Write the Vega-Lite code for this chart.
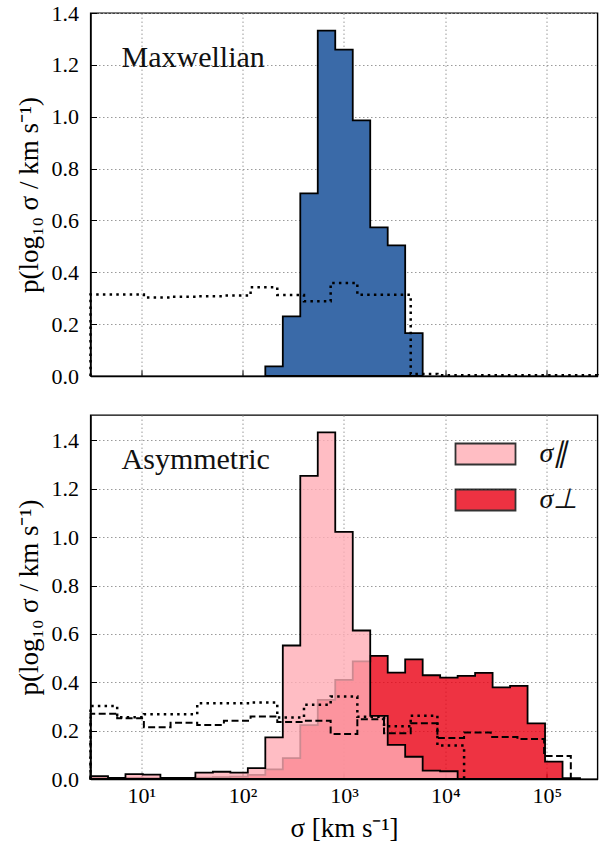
{
  "$schema": "https://vega.github.io/schema/vega-lite/v6.json",
  "padding": {"left": 13.5, "top": 1, "right": 0, "bottom": 0},
  "spacing": 26,
  "resolve": {"scale": {"fill": "independent"}, "legend": {"fill": "independent"}},
  "config": {
    "font": "Liberation Serif",
    "view": {"stroke": "#000", "strokeWidth": 1.4},
    "axis": {
      "zindex": 1,
      "domainColor": "#000",
      "domainWidth": 1.4,
      "tickColor": "#000",
      "tickWidth": 1,
      "tickSize": -6,
      "grid": true,
      "gridColor": "#9a9a9a",
      "gridDash": [1.5, 2.5],
      "gridWidth": 1,
      "labelColor": "#000",
      "labelFont": "Liberation Serif",
      "labelFontSize": 22,
      "titleColor": "#000",
      "titleFont": "Liberation Serif",
      "titleFontSize": 27,
      "titleFontWeight": "normal"
    }
  },
  "datasets": {
    "maxwellian": [
      {"sigma": 167.5, "p": 0},
      {"sigma": 167.5, "p": 0.037},
      {"sigma": 249.2, "p": 0.23},
      {"sigma": 370.6, "p": 0.704},
      {"sigma": 551.1, "p": 1.332},
      {"sigma": 819.8, "p": 1.259},
      {"sigma": 1219.9, "p": 0.986},
      {"sigma": 1814, "p": 0.573},
      {"sigma": 2698, "p": 0.504},
      {"sigma": 4012, "p": 0.165},
      {"sigma": 5968, "p": 0}
    ],
    "maxwellian_ref": [
      {"sigma": 3.1623, "p": 0},
      {"sigma": 3.1623, "p": 0.314},
      {"sigma": 5.796, "p": 0.314},
      {"sigma": 10.625, "p": 0.303},
      {"sigma": 19.48, "p": 0.306},
      {"sigma": 35.69, "p": 0.308},
      {"sigma": 65.42, "p": 0.31},
      {"sigma": 119.9, "p": 0.342},
      {"sigma": 219.8, "p": 0.312},
      {"sigma": 403.0, "p": 0.288},
      {"sigma": 738.6, "p": 0.359},
      {"sigma": 1353.9, "p": 0.313},
      {"sigma": 2481.7, "p": 0.313},
      {"sigma": 4548.7, "p": 0.008},
      {"sigma": 8338, "p": 0.003},
      {"sigma": 15286, "p": 0.003},
      {"sigma": 28022, "p": 0.003},
      {"sigma": 51343, "p": 0.003},
      {"sigma": 94120, "p": 0.003},
      {"sigma": 172510, "p": 0.003},
      {"sigma": 316228, "p": 0}
    ],
    "parallel": [
      {"component": "σ∥", "sigma": 3.1623, "p": 0},
      {"component": "σ∥", "sigma": 3.1623, "p": 0.012},
      {"component": "σ∥", "sigma": 4.703, "p": 0.005},
      {"component": "σ∥", "sigma": 6.997, "p": 0.02},
      {"component": "σ∥", "sigma": 10.405, "p": 0.018},
      {"component": "σ∥", "sigma": 15.47, "p": 0.005},
      {"component": "σ∥", "sigma": 23.02, "p": 0.005},
      {"component": "σ∥", "sigma": 34.23, "p": 0.026},
      {"component": "σ∥", "sigma": 50.92, "p": 0.03},
      {"component": "σ∥", "sigma": 75.73, "p": 0.026},
      {"component": "σ∥", "sigma": 112.6, "p": 0.045},
      {"component": "σ∥", "sigma": 167.5, "p": 0.172},
      {"component": "σ∥", "sigma": 249.2, "p": 0.552},
      {"component": "σ∥", "sigma": 370.6, "p": 1.253},
      {"component": "σ∥", "sigma": 551.1, "p": 1.433},
      {"component": "σ∥", "sigma": 819.8, "p": 1.022},
      {"component": "σ∥", "sigma": 1219.9, "p": 0.614},
      {"component": "σ∥", "sigma": 1814, "p": 0.261},
      {"component": "σ∥", "sigma": 2698, "p": 0.141},
      {"component": "σ∥", "sigma": 4012, "p": 0.092},
      {"component": "σ∥", "sigma": 5968, "p": 0.035},
      {"component": "σ∥", "sigma": 8877, "p": 0.032},
      {"component": "σ∥", "sigma": 13202, "p": 0}
    ],
    "perpendicular": [
      {"component": "σ⊥", "sigma": 3.1623, "p": 0},
      {"component": "σ⊥", "sigma": 3.1623, "p": 0.008},
      {"component": "σ⊥", "sigma": 4.703, "p": 0.003},
      {"component": "σ⊥", "sigma": 6.997, "p": 0.005},
      {"component": "σ⊥", "sigma": 10.405, "p": 0.004},
      {"component": "σ⊥", "sigma": 15.47, "p": 0.002},
      {"component": "σ⊥", "sigma": 23.02, "p": 0.003},
      {"component": "σ⊥", "sigma": 34.23, "p": 0.006},
      {"component": "σ⊥", "sigma": 50.92, "p": 0.008},
      {"component": "σ⊥", "sigma": 75.73, "p": 0.01},
      {"component": "σ⊥", "sigma": 112.6, "p": 0.017},
      {"component": "σ⊥", "sigma": 167.5, "p": 0.04},
      {"component": "σ⊥", "sigma": 249.2, "p": 0.086},
      {"component": "σ⊥", "sigma": 370.6, "p": 0.223},
      {"component": "σ⊥", "sigma": 551.1, "p": 0.327},
      {"component": "σ⊥", "sigma": 819.8, "p": 0.41},
      {"component": "σ⊥", "sigma": 1219.9, "p": 0.486},
      {"component": "σ⊥", "sigma": 1814, "p": 0.509},
      {"component": "σ⊥", "sigma": 2698, "p": 0.44},
      {"component": "σ⊥", "sigma": 4012, "p": 0.495},
      {"component": "σ⊥", "sigma": 5968, "p": 0.429},
      {"component": "σ⊥", "sigma": 8877, "p": 0.419},
      {"component": "σ⊥", "sigma": 13202, "p": 0.426},
      {"component": "σ⊥", "sigma": 19635, "p": 0.439},
      {"component": "σ⊥", "sigma": 29204, "p": 0.379},
      {"component": "σ⊥", "sigma": 43435, "p": 0.385},
      {"component": "σ⊥", "sigma": 64600, "p": 0.23},
      {"component": "σ⊥", "sigma": 96108, "p": 0.072},
      {"component": "σ⊥", "sigma": 142944, "p": 0.003},
      {"component": "σ⊥", "sigma": 212605, "p": 0}
    ],
    "asym_dotted": [
      {"sigma": 3.1623, "p": 0},
      {"sigma": 3.1623, "p": 0.302},
      {"sigma": 5.796, "p": 0.255},
      {"sigma": 10.625, "p": 0.268},
      {"sigma": 19.48, "p": 0.268},
      {"sigma": 35.69, "p": 0.313},
      {"sigma": 65.42, "p": 0.313},
      {"sigma": 119.9, "p": 0.316},
      {"sigma": 219.8, "p": 0.254},
      {"sigma": 403.0, "p": 0.307},
      {"sigma": 738.6, "p": 0.341},
      {"sigma": 1353.9, "p": 0.257},
      {"sigma": 2481.7, "p": 0.218},
      {"sigma": 4548.7, "p": 0.262},
      {"sigma": 8338, "p": 0.138},
      {"sigma": 15286, "p": 0}
    ],
    "asym_dashed": [
      {"sigma": 3.1623, "p": 0},
      {"sigma": 3.1623, "p": 0.27},
      {"sigma": 5.796, "p": 0.251},
      {"sigma": 10.625, "p": 0.214},
      {"sigma": 19.48, "p": 0.233},
      {"sigma": 35.69, "p": 0.2235},
      {"sigma": 65.42, "p": 0.241},
      {"sigma": 119.9, "p": 0.258},
      {"sigma": 219.8, "p": 0.236},
      {"sigma": 403.0, "p": 0.241},
      {"sigma": 738.6, "p": 0.186},
      {"sigma": 1353.9, "p": 0.247},
      {"sigma": 2481.7, "p": 0.189},
      {"sigma": 4548.7, "p": 0.23},
      {"sigma": 8338, "p": 0.17},
      {"sigma": 15286, "p": 0.192},
      {"sigma": 28022, "p": 0.174},
      {"sigma": 51343, "p": 0.165},
      {"sigma": 94120, "p": 0.095},
      {"sigma": 172510, "p": 0}
    ],
    "panel_labels": [
      {"panel": "top", "label": "Maxwellian"},
      {"panel": "bottom", "label": "Asymmetric"}
    ]
  },
  "vconcat": [
    {
      "width": 507,
      "height": 363,
      "layer": [
        {
          "data": {"name": "maxwellian"},
          "mark": {"type": "area", "interpolate": "step-after", "fill": "#3a6aa8", "stroke": "#000", "strokeWidth": 1.8},
          "encoding": {
            "x": {
              "field": "sigma",
              "type": "quantitative",
              "scale": {"type": "log", "domain": [3.1623, 316228], "nice": false},
              "axis": {"title": null, "labels": false, "values": [10, 100, 1000, 10000, 100000]}
            },
            "y": {
              "field": "p",
              "type": "quantitative",
              "scale": {"domain": [0, 1.4], "nice": false, "zero": true},
              "axis": {
                "title": "p(log₁₀ σ / km s⁻¹)",
                "values": [0, 0.2, 0.4, 0.6, 0.8, 1.0, 1.2, 1.4],
                "format": ".1f",
                "labelPadding": 18,
                "titlePadding": 8
              }
            }
          }
        },
        {
          "data": {"name": "maxwellian_ref"},
          "mark": {"type": "line", "interpolate": "step-after", "stroke": "#000", "strokeWidth": 2.5, "strokeDash": [2.5, 4.2]},
          "encoding": {
            "x": {"field": "sigma", "type": "quantitative"},
            "y": {"field": "p", "type": "quantitative"},
            "order": {"value": null}
          }
        },
        {
          "data": {"name": "panel_labels"},
          "transform": [{"filter": "datum.panel == 'top'"}],
          "mark": {"type": "text", "align": "left", "baseline": "alphabetic", "fontSize": 30, "font": "Liberation Serif", "fill": "#111"},
          "encoding": {
            "x": {"datum": 6.4, "type": "quantitative"},
            "y": {"datum": 1.19, "type": "quantitative"},
            "text": {"field": "label", "type": "nominal"}
          }
        }
      ]
    },
    {
      "width": 507,
      "height": 364,
      "layer": [
        {
          "data": {"name": "perpendicular"},
          "mark": {"type": "area", "interpolate": "step-after", "fillOpacity": 0.8, "stroke": "#000", "strokeWidth": 1.8},
          "encoding": {
            "x": {
              "field": "sigma",
              "type": "quantitative",
              "scale": {"type": "log", "domain": [3.1623, 316228], "nice": false},
              "axis": {
                "title": "σ [km s⁻¹]",
                "values": [10, 100, 1000, 10000, 100000],
                "labelExpr": "datum.value == 10 ? '10¹' : datum.value == 100 ? '10²' : datum.value == 1000 ? '10³' : datum.value == 10000 ? '10⁴' : '10⁵'",
                "labelPadding": 12,
                "titlePadding": 9
              }
            },
            "y": {
              "field": "p",
              "type": "quantitative",
              "scale": {"domain": [0, 1.505], "nice": false, "zero": true},
              "axis": {
                "title": "p(log₁₀ σ / km s⁻¹)",
                "values": [0, 0.2, 0.4, 0.6, 0.8, 1.0, 1.2, 1.4],
                "format": ".1f",
                "labelPadding": 18,
                "titlePadding": 8
              }
            },
            "fill": {
              "field": "component",
              "type": "nominal",
              "scale": {"domain": ["σ∥", "σ⊥"], "range": ["#ffadb5", "#ea0013"]},
              "legend": {
                "title": null,
                "orient": "none",
                "legendX": 364,
                "legendY": 8,
                "padding": 0,
                "symbolType": "M-1,-0.35H1V0.35H-1Z",
                "symbolSize": 3600,
                "symbolStrokeColor": "#000",
                "symbolStrokeWidth": 1.8,
                "symbolOpacity": 0.8,
                "labelFont": "Liberation Serif",
                "labelFontStyle": "italic",
                "labelFontSize": 28,
                "labelColor": "#111",
                "labelOffset": 23,
                "rowPadding": -3.5
              }
            }
          }
        },
        {
          "data": {"name": "parallel"},
          "mark": {"type": "area", "interpolate": "step-after", "fillOpacity": 0.8, "stroke": "#000", "strokeWidth": 1.8},
          "encoding": {
            "x": {"field": "sigma", "type": "quantitative"},
            "y": {"field": "p", "type": "quantitative"},
            "fill": {"field": "component", "type": "nominal"}
          }
        },
        {
          "data": {"name": "asym_dotted"},
          "mark": {"type": "line", "interpolate": "step-after", "stroke": "#000", "strokeWidth": 2.5, "strokeDash": [2.5, 4.2]},
          "encoding": {
            "x": {"field": "sigma", "type": "quantitative"},
            "y": {"field": "p", "type": "quantitative"},
            "order": {"value": null}
          }
        },
        {
          "data": {"name": "asym_dashed"},
          "mark": {"type": "line", "interpolate": "step-after", "stroke": "#000", "strokeWidth": 2, "strokeDash": [7, 3.5]},
          "encoding": {
            "x": {"field": "sigma", "type": "quantitative"},
            "y": {"field": "p", "type": "quantitative"},
            "order": {"value": null}
          }
        },
        {
          "data": {"name": "panel_labels"},
          "transform": [{"filter": "datum.panel == 'bottom'"}],
          "mark": {"type": "text", "align": "left", "baseline": "alphabetic", "fontSize": 30, "font": "Liberation Serif", "fill": "#111"},
          "encoding": {
            "x": {"datum": 6.4, "type": "quantitative"},
            "y": {"datum": 1.28, "type": "quantitative"},
            "text": {"field": "label", "type": "nominal"}
          }
        }
      ]
    }
  ]
}
